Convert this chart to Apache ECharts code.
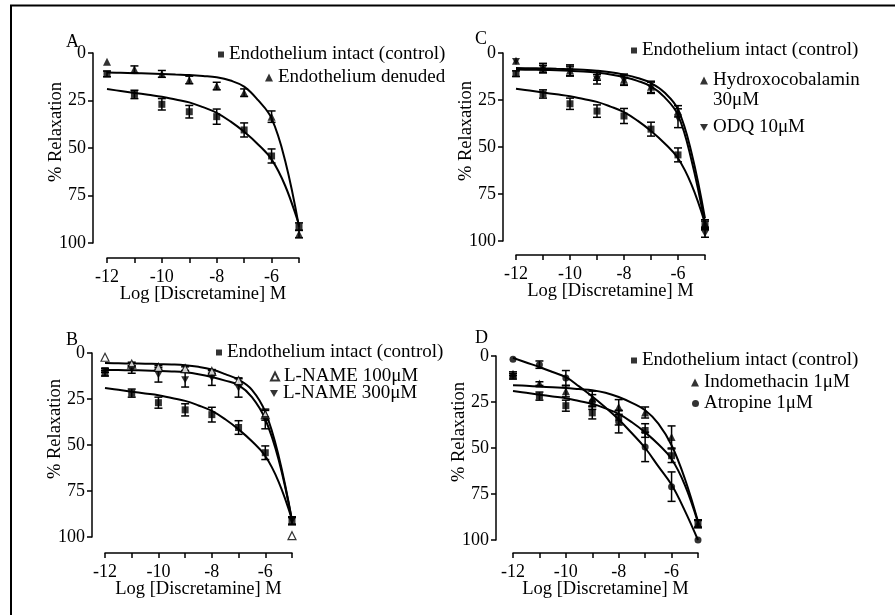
<!DOCTYPE html>
<html>
<head>
<meta charset="utf-8">
<script src="https://cdn.jsdelivr.net/npm/echarts@6/dist/echarts.min.js"></script>
<style>
  html, body { margin: 0; padding: 0; background: #fff; }
  #chart { width: 895px; height: 615px; }
</style>
</head>
<body>
<div id="chart"></div>
<script>
const doseX = [-12, -11, -10, -9, -8, -7, -6, -5];
const fitX = [-12, -11.5, -11, -10.5, -10, -9.5, -9, -8.5, -8, -7.5, -7, -6.5, -6, -5.5, -5];
const yTicks = [0, 25, 50, 75, 100];

// control (shown in every panel)
const controlMean = [11, 21.8, 27, 30.9, 33.5, 40.5, 54.2, 91.4];
const controlSem = [1.5, 2.2, 3, 3.3, 4, 3.7, 3.7, 2];
const controlFit = [19, 20, 21, 22, 23, 24.5, 26, 28.5, 31.5, 36, 41.5, 48, 56, 70, 90.5];

// A
const denudedMean = [4.6, 8.6, 11, 14.2, 17.4, 20.9, 33.5, 95.3];
const denudedSem = [0, 1.8, 1.8, 2, 2, 2, 3, 2];
const denudedFit = [10.3, 10.4, 10.6, 10.8, 11, 11.3, 11.6, 12.1, 12.8, 14.5, 17.7, 24.7, 34.4, 57, 91.5];

// C
const hydroxoMean = [4.1, 8, 9.3, 12, 14.2, 18, 31, 90.7];
const hydroxoSem = [0, 2.5, 3, 2.5, 3, 3, 3, 2];
const hydroxoFit = [8, 8.1, 8.2, 8.4, 8.6, 8.9, 9.4, 10.2, 11.5, 13.3, 16, 21, 30, 53, 88];
const odqMean = [4.5, 8.5, 9.5, 14, 14.5, 18.5, 34.7, 96];
const odqSem = [0, 2, 2.5, 2.5, 2.5, 3, 5, 2];
const odqFit = [8.8, 8.9, 9, 9.2, 9.5, 9.9, 10.5, 11.4, 12.8, 14.8, 17.8, 23.5, 33, 57, 91];

// B
const lname100Mean = [2.3, 6, 7.8, 8.5, 10, 15, 33.5, 99.3];
const lname100Sem = [0, 1, 1, 1, 1, 1.5, 3, 0];
const lname100Fit = [5.5, 5.6, 5.7, 5.8, 6, 6.2, 6.6, 7.5, 9, 11.5, 14.5, 20, 32, 56, 91];
const lname300Mean = [9.5, 9, 11.8, 14.5, 13.6, 19, 36.2, 91];
const lname300Sem = [1, 2, 4, 4, 4, 5, 5, 2];
const lname300Fit = [9.2, 9.3, 9.4, 9.5, 9.7, 10, 10.5, 11.5, 13, 15, 17.5, 24, 36, 58, 91];

// D
const indoMean = [9.6, 15, 19.2, 23.1, 27.7, 30.7, 44, 91];
const indoSem = [1, 1, 3, 4, 4, 3, 6, 2];
const indoFit = [15.9, 16.2, 16.6, 17, 17.4, 18, 18.6, 20, 22.3, 25.5, 29.5, 36.7, 48.5, 66.6, 90];
const atropineMean = [1.8, 4.7, 11.9, 25, 35.8, 49.4, 71, 100];
const atropineSem = [0, 2, 4, 4, 6, 8, 8, 0];
const atropineFit = [1, 3.5, 6, 8.7, 11.5, 16.5, 22, 28, 34.5, 42, 50, 60, 70, 84, 100];

const FONT = "'Liberation Serif', 'Times New Roman', serif";

// plot areas: A, C, B, D
const grids = [
  { left: 107, top: 53, width: 192, height: 190 },
  { left: 516, top: 53, width: 189, height: 188 },
  { left: 105, top: 353, width: 187, height: 184 },
  { left: 513, top: 356, width: 185, height: 184 },
];
const yOffsets = [14, 13, 13, 17];
const xOffsets = [15, 14, 16, 13];

const xAxes = grids.map((g, i) => ({
  gridIndex: i,
  type: 'value',
  position: 'bottom',
  min: -12,
  max: -5,
  interval: 1,
  offset: xOffsets[i],
  name: 'Log [Discretamine] M',
  nameLocation: 'middle',
  nameGap: 27,
  nameMoveOverlap: false,
  nameTextStyle: { fontFamily: FONT, fontSize: 18.5, color: '#000' },
  axisLine: { onZero: false, lineStyle: { color: '#000', width: 1.5 } },
  axisTick: { length: 5, lineStyle: { color: '#000', width: 1.5 } },
  axisLabel: {
    margin: 10,
    fontFamily: FONT,
    fontSize: 18,
    color: '#000',
    formatter: (v) => (v % 2 === 0 ? String(v) : ''),
  },
  splitLine: { show: false },
}));

const yAxes = grids.map((g, i) => ({
  gridIndex: i,
  type: 'value',
  position: 'left',
  inverse: true,
  min: 0,
  max: 100,
  interval: 25,
  offset: yOffsets[i],
  name: '% Relaxation',
  nameLocation: 'middle',
  nameGap: 27,
  nameMoveOverlap: false,
  nameTextStyle: { fontFamily: FONT, fontSize: 18.5, color: '#000', padding: [0, 0, 0, 32] },
  axisLine: { show: true, onZero: false, lineStyle: { color: '#000', width: 1.5 } },
  axisTick: { show: true, length: 5, lineStyle: { color: '#000', width: 1.5 } },
  axisLabel: {
    margin: 7,
    fontFamily: FONT,
    fontSize: 18,
    color: '#000',
    customValues: yTicks,
  },
  splitLine: { show: false },
}));

function renderErrorBar(params, api) {
  const x = api.value(0);
  const m = api.value(1);
  const e = api.value(2);
  const children = [];
  if (e > 0) {
    const top = api.coord([x, m - e]);
    const bot = api.coord([x, m + e]);
    const cap = 4;
    const style = { stroke: '#000', lineWidth: 1.5 };
    children.push(
      { type: 'line', shape: { x1: top[0], y1: top[1], x2: bot[0], y2: bot[1] }, style },
      { type: 'line', shape: { x1: top[0] - cap, y1: top[1], x2: top[0] + cap, y2: top[1] }, style },
      { type: 'line', shape: { x1: bot[0] - cap, y1: bot[1], x2: bot[0] + cap, y2: bot[1] }, style },
    );
  }
  return { type: 'group', children };
}

const series = [];
function addGroup(panel, name, mean, sem, fit, marker) {
  series.push({
    name: name + ' fit ' + panel,
    type: 'line',
    xAxisIndex: panel,
    yAxisIndex: panel,
    data: fitX.map((x, i) => [x, fit[i]]),
    showSymbol: false,
    smooth: 0.4,
    lineStyle: { color: '#000', width: 2 },
    silent: true,
    z: 2,
  });
  series.push({
    name: name + ' sem ' + panel,
    type: 'custom',
    xAxisIndex: panel,
    yAxisIndex: panel,
    data: doseX.map((x, i) => [x, mean[i], sem[i]]),
    renderItem: renderErrorBar,
    silent: true,
    z: 3,
  });
  series.push(Object.assign({
    name,
    type: 'scatter',
    xAxisIndex: panel,
    yAxisIndex: panel,
    data: doseX.map((x, i) => [x, mean[i]]),
    symbolSize: 7,
    itemStyle: { color: '#000' },
    z: 4,
  }, marker));
}

const CONTROL = 'Endothelium intact (control)';
const square = { symbol: 'rect', symbolSize: 7 };
const tri = { symbol: 'triangle', symbolSize: 8 };
const triDown = { symbol: 'path://M0,0 L10,0 L5,9 Z', symbolSize: [8, 7] };
const triOpen = { symbol: 'triangle', symbolSize: 8, itemStyle: { color: '#fff', borderColor: '#000', borderWidth: 1.2 } };
const dot = { symbol: 'circle', symbolSize: 7 };

addGroup(0, CONTROL, controlMean, controlSem, controlFit, square);
addGroup(0, 'Endothelium denuded', denudedMean, denudedSem, denudedFit, tri);
addGroup(1, CONTROL, controlMean, controlSem, controlFit, square);
addGroup(1, 'Hydroxocobalamin', hydroxoMean, hydroxoSem, hydroxoFit, tri);
addGroup(1, 'ODQ 10μM', odqMean, odqSem, odqFit, triDown);
addGroup(2, CONTROL, controlMean, controlSem, controlFit, square);
addGroup(2, 'L-NAME 100μM', lname100Mean, lname100Sem, lname100Fit, triOpen);
addGroup(2, 'L-NAME 300μM', lname300Mean, lname300Sem, lname300Fit, triDown);
addGroup(3, CONTROL, controlMean, controlSem, controlFit, square);
addGroup(3, 'Indomethacin 1μM', indoMean, indoSem, indoFit, tri);
addGroup(3, 'Atropine 1μM', atropineMean, atropineSem, atropineFit, dot);

function legendItem(name, left, top, size) {
  return {
    data: [name],
    left,
    top,
    padding: 0,
    itemWidth: size,
    itemHeight: size,
    selectedMode: false,
    textStyle: { fontFamily: FONT, fontSize: 19, color: '#000' },
  };
}

function letter(text, left, top) {
  return {
    text,
    left,
    top,
    padding: 0,
    textStyle: { fontFamily: FONT, fontSize: 18, fontWeight: 'normal', color: '#000' },
  };
}

const chart = echarts.init(document.getElementById('chart'));
chart.setOption({
  animation: false,
  title: [
    letter('A', 66, 33),
    letter('C', 475, 30),
    letter('B', 66, 331),
    letter('D', 475, 329),
  ],
  legend: [
    legendItem(CONTROL, 218, 45, 6),
    legendItem('Endothelium denuded', 265, 68, 8),
    legendItem(CONTROL, 631, 41, 6),
    legendItem('Hydroxocobalamin', 700, 71, 8),
    legendItem('ODQ 10μM', 700, 118, 8),
    legendItem(CONTROL, 216, 343, 6),
    legendItem('L-NAME 100μM', 270, 367, 8),
    legendItem('L-NAME 300μM', 270, 384, 8),
    legendItem(CONTROL, 631, 351, 6),
    legendItem('Indomethacin 1μM', 691, 373, 8),
    legendItem('Atropine 1μM', 692, 394, 7),
  ],
  graphic: [
    { type: 'text', left: 713, top: 91, style: { text: '30μM', font: '19px ' + FONT, fill: '#000' } },
    { type: 'line', shape: { x1: 10, y1: 5.5, x2: 895, y2: 5.5 }, style: { stroke: '#000', lineWidth: 2 } },
    { type: 'line', shape: { x1: 11, y1: 5, x2: 11, y2: 615 }, style: { stroke: '#000', lineWidth: 2 } },
  ],
  grid: grids,
  xAxis: xAxes,
  yAxis: yAxes,
  series,
});
</script>
</body>
</html>
